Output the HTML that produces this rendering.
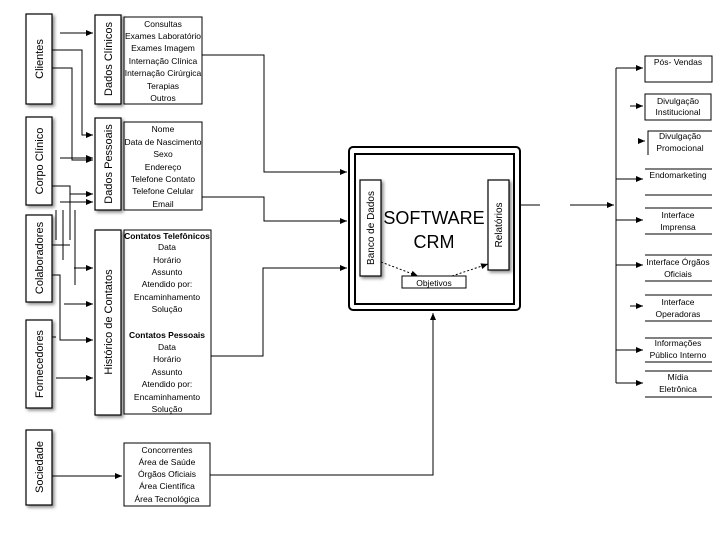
<!DOCTYPE html>
<html><head><meta charset="utf-8"><style>
body{margin:0;background:#fff}
svg text{font-family:"Liberation Sans",sans-serif;fill:#000}
</style></head><body>
<svg width="720" height="540" viewBox="0 0 720 540" xmlns="http://www.w3.org/2000/svg">
<defs>
<marker id="a" markerWidth="8" markerHeight="8" refX="7" refY="4" orient="auto" markerUnits="userSpaceOnUse"><path d="M0,1 L7,4 L0,7z" fill="#000"/></marker>
<filter id="s"><feDropShadow dx="2" dy="2" stdDeviation="1.5" flood-opacity="0.45"/></filter>
</defs>
<g stroke="#000" stroke-width="1.2" fill="#fff" filter="url(#s)">
<rect x="26" y="14" width="26" height="90"/>
<rect x="26" y="117" width="26" height="88"/>
<rect x="26" y="215" width="26" height="87"/>
<rect x="26" y="320" width="26" height="88"/>
<rect x="26" y="430" width="26" height="75"/>
<rect x="95" y="15" width="26" height="89"/>
<rect x="95" y="118" width="26" height="92"/>
<rect x="95" y="230" width="26" height="185"/>
<rect x="360" y="180" width="21" height="96"/>
<rect x="488" y="180" width="21" height="90"/>
</g>
<g font-size="11" text-anchor="middle">
<text transform="translate(43,59) rotate(-90)">Clientes</text>
<text transform="translate(43,161) rotate(-90)">Corpo Clínico</text>
<text transform="translate(43,258) rotate(-90)">Colaboradores</text>
<text transform="translate(43,364) rotate(-90)">Fornecedores</text>
<text transform="translate(43,467) rotate(-90)">Sociedade</text>
<text transform="translate(112,59) rotate(-90)">Dados Clínicos</text>
<text transform="translate(112,164) rotate(-90)">Dados Pessoais</text>
<text transform="translate(112,322) rotate(-90)">Histórico de Contatos</text>
<text font-size="10" transform="translate(374,228) rotate(-90)">Banco de Dados</text>
<text font-size="10" transform="translate(502,225) rotate(-90)">Relatórios</text>
</g>
<g stroke="#000" stroke-width="1" fill="none">
<rect x="124" y="17" width="78" height="87"/>
<rect x="124" y="122" width="78" height="88"/>
<rect x="124" y="230" width="87" height="184"/>
<rect x="124" y="443" width="86" height="63"/>
<rect x="349" y="147" width="171" height="163" rx="4" stroke-width="2"/>
<rect x="355" y="154" width="159" height="150" stroke-width="2"/>
<rect x="402" y="276" width="64" height="12"/>
<path d="M381,262 L418,276" stroke-dasharray="2,2" marker-end="url(#a)"/>
<path d="M452,276 L488,264" stroke-dasharray="2,2" marker-end="url(#a)"/>
</g>
<g font-size="8.5" text-anchor="middle">
<text x="163" y="27">Consultas</text><text x="163" y="39">Exames Laboratório</text><text x="163" y="51">Exames Imagem</text><text x="163" y="64">Internação Clínica</text><text x="163" y="76">Internação Cirúrgica</text><text x="163" y="89">Terapias</text><text x="163" y="101">Outros</text>
<text x="163" y="132">Nome</text><text x="163" y="145">Data de Nascimento</text><text x="163" y="157">Sexo</text><text x="163" y="170">Endereço</text><text x="163" y="182">Telefone Contato</text><text x="163" y="194">Telefone Celular</text><text x="163" y="207">Email</text>
<text x="167" y="239" font-weight="bold">Contatos Telefônicos</text><text x="167" y="250">Data</text><text x="167" y="263">Horário</text><text x="167" y="275">Assunto</text><text x="167" y="287">Atendido por:</text><text x="167" y="300">Encaminhamento</text><text x="167" y="312">Solução</text>
<text x="167" y="338" font-weight="bold">Contatos Pessoais</text><text x="167" y="350">Data</text><text x="167" y="362">Horário</text><text x="167" y="375">Assunto</text><text x="167" y="387">Atendido por:</text><text x="167" y="400">Encaminhamento</text><text x="167" y="412">Solução</text>
<text x="167" y="453">Concorrentes</text><text x="167" y="465">Área de Saúde</text><text x="167" y="477">Órgãos Oficiais</text><text x="167" y="489">Área Científica</text><text x="167" y="502">Área Tecnológica</text>
<text x="434" y="286">Objetivos</text>
</g>
<text x="434" y="224" font-size="18" text-anchor="middle">SOFTWARE</text>
<text x="434" y="248" font-size="18" text-anchor="middle">CRM</text>
<g stroke="#000" stroke-width="1" fill="none">
<path d="M60,33 H93" marker-end="url(#a)"/>
<path d="M52,50 H82 V135 H93" marker-end="url(#a)"/>
<path d="M52,68 H72 V160 H93" marker-end="url(#a)"/>
<path d="M60,158 H93" marker-end="url(#a)"/>
<path d="M52,186 H70 V240"/>
<path d="M70,194 H93" marker-end="url(#a)"/>
<path d="M60,202 H93" marker-end="url(#a)"/>
<path d="M56,210 V240 M63,210 V260 M75,210 V285"/>
<path d="M52,245 H70"/>
<path d="M74,268 H93" marker-end="url(#a)"/>
<path d="M52,275 H60 V340 H93" marker-end="url(#a)"/>
<path d="M64,304 H93" marker-end="url(#a)"/>
<path d="M52,337 H56"/>
<path d="M56,378 H93" marker-end="url(#a)"/>
<path d="M52,476 H122" marker-end="url(#a)"/>
<path d="M202,55 H264 V172 H347" marker-end="url(#a)"/>
<path d="M202,197 H264 V221 H347" marker-end="url(#a)"/>
<path d="M211,356 H263 V268 H347" marker-end="url(#a)"/>
<path d="M210,475 H433 V313" marker-end="url(#a)"/>
<path d="M520,205 H540 M570,205 H614" marker-end="url(#a)"/>
<path d="M616,68 V383"/>
<path d="M616,68 H643" marker-end="url(#a)"/>
<path d="M630,106 H643" marker-end="url(#a)"/>
<path d="M641,141 H645" marker-end="url(#a)"/>
<path d="M616,179 H643" marker-end="url(#a)"/>
<path d="M616,220 H643" marker-end="url(#a)"/>
<path d="M616,265 H643" marker-end="url(#a)"/>
<path d="M630,306 H643" marker-end="url(#a)"/>
<path d="M616,350 H643" marker-end="url(#a)"/>
<path d="M616,383 H643" marker-end="url(#a)"/>
<rect x="645" y="56" width="67" height="26"/>
<rect x="645" y="94" width="66" height="26"/>
<path d="M648,155 V131 H712"/>
<path d="M645,169 H712 M645,195 H712"/>
<path d="M645,208 H712 M645,234 H712"/>
<path d="M645,255 H712 M645,281 H712"/>
<path d="M645,295 H712 M645,321 H712"/>
<path d="M645,338 H712 M645,362 H712"/>
<path d="M645,371 H712 M645,397 H712"/>
</g>
<g font-size="8.5" text-anchor="middle">
<text x="678" y="65">Pós- Vendas</text>
<text x="678" y="104">Divulgação</text><text x="678" y="115">Institucional</text>
<text x="680" y="139">Divulgação</text><text x="680" y="151">Promocional</text>
<text x="678" y="178">Endomarketing</text>
<text x="678" y="218">Interface</text><text x="678" y="230">Imprensa</text>
<text x="678" y="265">Interface Órgãos</text><text x="678" y="277">Oficiais</text>
<text x="678" y="305">Interface</text><text x="678" y="317">Operadoras</text>
<text x="678" y="346">Informações</text><text x="678" y="358">Público Interno</text>
<text x="678" y="380">Mídia</text><text x="678" y="392">Eletrônica</text>
</g>
</svg>
</body></html>
